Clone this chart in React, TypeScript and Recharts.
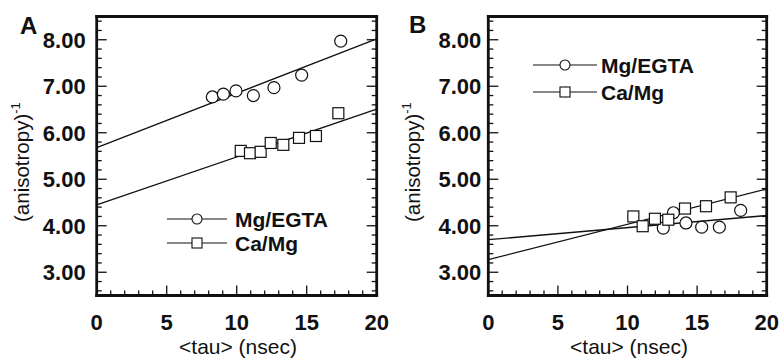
import React from 'react';
import { ComposedChart, Scatter, XAxis, YAxis } from 'recharts';

// ---------- data ----------
const xTicks = [0, 1, 2, 3, 4, 5, 6, 7, 8, 9, 10, 11, 12, 13, 14, 15, 16, 17, 18, 19, 20];
const xMajorTicks = [0, 5, 10, 15, 20];
const yTicks = [2.6, 2.8, 3.0, 3.2, 3.4, 3.6, 3.8, 4.0, 4.2, 4.4, 4.6, 4.8, 5.0, 5.2, 5.4, 5.6, 5.8, 6.0, 6.2, 6.4, 6.6, 6.8, 7.0, 7.2, 7.4, 7.6, 7.8, 8.0, 8.2, 8.4];
const yMajorTicks = [3, 4, 5, 6, 7, 8];
const yTickLabels = ['3.00', '4.00', '5.00', '6.00', '7.00', '8.00'];
const xTickLabels = ['0', '5', '10', '15', '20'];

const seriesNames = ['Mg/EGTA', 'Ca/Mg'];
const panelNames = ['A', 'B'];
const xTitle = '<tau> (nsec)';
const yTitle = '(anisotropy)';

// Panel A
const aMgEgta = [
  { tau: 8.26, r: 6.77 }, { tau: 9.05, r: 6.83 }, { tau: 9.95, r: 6.9 }, { tau: 11.19, r: 6.8 },
  { tau: 12.66, r: 6.97 }, { tau: 14.64, r: 7.24 }, { tau: 17.43, r: 7.97 },
];
const aCaMg = [
  { tau: 10.29, r: 5.61 }, { tau: 10.95, r: 5.56 }, { tau: 11.71, r: 5.59 }, { tau: 12.43, r: 5.78 },
  { tau: 13.33, r: 5.74 }, { tau: 14.45, r: 5.89 }, { tau: 15.66, r: 5.93 }, { tau: 17.26, r: 6.42 },
];
const aMgFit = [{ tau: 0, r: 5.68 }, { tau: 20, r: 8.02 }];
const aCaFit = [{ tau: 0, r: 4.45 }, { tau: 20, r: 6.51 }];

// Panel B
const bMgEgta = [
  { tau: 12.57, r: 3.95 }, { tau: 13.3, r: 4.28 }, { tau: 14.2, r: 4.06 }, { tau: 15.33, r: 3.97 },
  { tau: 16.6, r: 3.97 }, { tau: 18.13, r: 4.33 },
];
const bCaMg = [
  { tau: 10.42, r: 4.2 }, { tau: 11.09, r: 3.99 }, { tau: 11.97, r: 4.15 }, { tau: 12.93, r: 4.13 },
  { tau: 14.13, r: 4.37 }, { tau: 15.64, r: 4.42 }, { tau: 17.41, r: 4.61 },
];
const bMgFit = [{ tau: 0, r: 3.7 }, { tau: 20, r: 4.22 }];
const bCaFit = [{ tau: 0, r: 3.27 }, { tau: 20, r: 4.79 }];

// ---------- styling ----------
const FONT = '"Liberation Sans", Arial, Helvetica, sans-serif';
const INK = '#111';
const W = 783;
const H = 362;

const isIn = (list: number[], v: number) => list.findIndex((m) => Math.abs(m - v) < 1e-6);

function makeTick(side: 'bottom' | 'top' | 'left' | 'right', gap: number) {
  return (props: any) => {
    const { x, y, payload } = props;
    const v = payload.value as number;
    const isX = side === 'bottom' || side === 'top';
    const idx = isIn(isX ? xMajorTicks : yMajorTicks, v);
    const len = idx >= 0 ? 10 : 5;
    let x2 = x, y2 = y;
    if (side === 'bottom') y2 = y - len;
    if (side === 'top') y2 = y + len;
    if (side === 'left') x2 = x + len;
    if (side === 'right') x2 = x - len;
    return (
      <g>
        <line x1={x} y1={y} x2={x2} y2={y2} stroke={INK} strokeWidth={1.3} />
        {idx >= 0 && side === 'bottom' && (
          <text x={x} y={y + 34} textAnchor="middle" fontFamily={FONT} fontWeight="bold" fontSize={22} fill={INK}>
            {xTickLabels[idx]}
          </text>
        )}
        {idx >= 0 && side === 'left' && (
          <text x={x - gap} y={y + 8} textAnchor="end" fontFamily={FONT} fontWeight="bold" fontSize={22} fill={INK}>
            {yTickLabels[idx]}
          </text>
        )}
      </g>
    );
  };
}

const CircleShape = (props: any) => (
  <circle cx={props.cx} cy={props.cy} r={6} fill="#fff" stroke={INK} strokeWidth={1.2} />
);
const SquareShape = (props: any) => (
  <rect x={props.cx - 5.5} y={props.cy - 5.5} width={11} height={11} fill="#fff" stroke={INK} strokeWidth={1.2} />
);
const NoShape = () => <g />;

const frame = { stroke: INK, strokeWidth: 2.8, strokeLinecap: 'square' as const };

function Panel(props: {
  left: number; width: number; plotLeft: number; plotRight: number; gap: number;
  mg: any[]; ca: any[]; mgFit: any[]; caFit: any[];
}) {
  const { left, width, plotLeft, plotRight, gap, mg, ca, mgFit, caFit } = props;
  const top = 16.5;
  const bottom = 295.5;
  return (
    <div style={{ position: 'absolute', left, top: 0, width, height: H }}>
      <ComposedChart
        width={width}
        height={H}
        margin={{ top: top - 1, bottom: H - bottom - 1, left: plotLeft - left - 1, right: left + width - plotRight - 1 }}
        style={{ overflow: 'visible' }}
      >
        <XAxis xAxisId={0} type="number" dataKey="tau" domain={[0, 20]} allowDataOverflow ticks={xTicks} interval={0}
          height={1} tickSize={0} tickMargin={0} tickLine={false} axisLine={frame} tick={makeTick('bottom', gap)} />
        <XAxis xAxisId="top" orientation="top" type="number" domain={[0, 20]} allowDataOverflow ticks={xTicks} interval={0}
          height={1} tickSize={0} tickMargin={0} tickLine={false} axisLine={frame} tick={makeTick('top', gap)} />
        <YAxis yAxisId={0} type="number" dataKey="r" domain={[2.5, 8.5]} allowDataOverflow ticks={yTicks} interval={0}
          width={1} tickSize={0} tickMargin={0} tickLine={false} axisLine={frame} tick={makeTick('left', gap)} />
        <YAxis yAxisId="right" orientation="right" type="number" domain={[2.5, 8.5]} allowDataOverflow ticks={yTicks} interval={0}
          width={1} tickSize={0} tickMargin={0} tickLine={false} axisLine={frame} tick={makeTick('right', gap)} />
        <Scatter name={seriesNames[0] + ' fit'} data={mgFit} line={{ stroke: INK, strokeWidth: 1.3 }} shape={NoShape} isAnimationActive={false} />
        <Scatter name={seriesNames[1] + ' fit'} data={caFit} line={{ stroke: INK, strokeWidth: 1.3 }} shape={NoShape} isAnimationActive={false} />
        <Scatter name={seriesNames[0]} data={mg} shape={CircleShape} isAnimationActive={false} />
        <Scatter name={seriesNames[1]} data={ca} shape={SquareShape} isAnimationActive={false} />
      </ComposedChart>
    </div>
  );
}

function LegendBox(props: { x1: number; x2: number; sx: number; tx: number; y1: number; y2: number }) {
  const { x1, x2, sx, tx, y1, y2 } = props;
  return (
    <g>
      <line x1={x1} y1={y1} x2={x2} y2={y1} stroke={INK} strokeWidth={1.2} />
      <circle cx={sx} cy={y1} r={5} fill="#fff" stroke={INK} strokeWidth={1.1} />
      <text x={tx} y={y1 + 7.5} fontFamily={FONT} fontWeight="bold" fontSize={21} fill={INK}>{seriesNames[0]}</text>
      <line x1={x1} y1={y2} x2={x2} y2={y2} stroke={INK} strokeWidth={1.2} />
      <rect x={sx - 5} y={y2 - 5} width={10} height={10} fill="#fff" stroke={INK} strokeWidth={1.1} />
      <text x={tx} y={y2 + 7.5} fontFamily={FONT} fontWeight="bold" fontSize={21} fill={INK}>{seriesNames[1]}</text>
    </g>
  );
}

function Titles(props: { cx: number; yx: number; lx: number; ly: number; letter: string }) {
  const { cx, yx, lx, ly, letter } = props;
  return (
    <g>
      <text x={lx} y={ly} fontFamily={FONT} fontWeight="bold" fontSize={24} fill={INK}>{letter}</text>
      <text x={cx} y={354} textAnchor="middle" fontFamily={FONT} fontSize={21} fill={INK}>{xTitle}</text>
      <text x={yx} y={222} transform={`rotate(-90 ${yx} 222)`} fontFamily={FONT} fontSize={20.5} fill={INK}>
        {yTitle}
        <tspan fontSize={13} dy={-9}>-1</tspan>
      </text>
    </g>
  );
}

export default function App() {
  return (
    <div style={{ position: 'absolute', left: 0, top: 0, width: W, height: H, background: '#fff', overflow: 'hidden' }}>
      <Panel left={0} width={392} plotLeft={96.7} plotRight={376.7} gap={11}
        mg={aMgEgta} ca={aCaMg} mgFit={aMgFit} caFit={aCaFit} />
      <Panel left={392} width={391} plotLeft={488.3} plotRight={766.7} gap={7}
        mg={bMgEgta} ca={bCaMg} mgFit={bMgFit} caFit={bCaFit} />
      <svg width={W} height={H} style={{ position: 'absolute', left: 0, top: 0, pointerEvents: 'none' }}>
        <LegendBox x1={167} x2={227} sx={197} tx={235} y1={219} y2={243} />
        <LegendBox x1={533} x2={597} sx={565} tx={601} y1={65} y2={92} />
        <Titles cx={238} yx={29} lx={20} ly={34} letter={panelNames[0]} />
        <Titles cx={629} yx={420} lx={409} ly={33} letter={panelNames[1]} />
      </svg>
    </div>
  );
}
